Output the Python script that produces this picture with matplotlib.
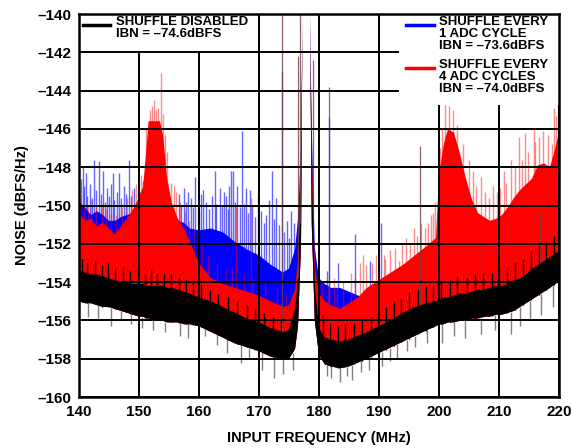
import numpy as np
import matplotlib
matplotlib.use("Agg")
import matplotlib.pyplot as plt
from matplotlib.patches import Rectangle

plt.rcParams['font.family'] = ['Liberation Sans', 'DejaVu Sans']
plt.rcParams['font.weight'] = 'bold'

# frequency grid (MHz) shared by the three noise bands; nan = gap at the carrier
freq = [140, 141, 142, 143, 144, 145, 146, 147, 148, 149, 150, 150.7, 151.3, 151.6,
        153.5, 154, 154.7, 155.5, 156.5, 157.5, 158.5, 160, 162, 164, 166, 168, 170,
        172, 174, 175, 176, 176.5, 177, 177.25, 177.8, 178.5, 178.8, 179.3, 180, 181,
        182, 183.5, 185, 186.5, 188, 190, 192, 194, 196, 198, 199.5, 200, 200.8, 201.5,
        202.5, 203.5, 204.5, 205.5, 206.5, 207.5, 208.5, 209.5, 210.5, 211.5, 212.5,
        213.5, 214.5, 215.5, 216.5, 217.5, 218.5, 219.3, 220]
nan = np.nan

# shuffle disabled (black band)
off_top = [-153.4, -153.5, -153.6, -153.6, -153.7, -153.8, -153.9, -154.0, -154.0, -154.1,
           -154.1, -154.1, -154.2, -154.2, -154.2, -154.2, -154.3, -154.3, -154.4, -154.5,
           -154.6, -154.8, -155.0, -155.3, -155.6, -155.9, -156.1, -156.4, -156.6, -156.5,
           -155.4, -153.8, -149.0, -140.0, nan, -140.0, -148.0, -154.2, -156.4, -156.9,
           -157.0, -157.1, -157.0, -156.8, -156.6, -156.3, -156.0, -155.6, -155.3, -155.1,
           -155.0, -154.9, -154.8, -154.8, -154.7, -154.6, -154.6, -154.5, -154.4, -154.4,
           -154.3, -154.2, -154.2, -154.1, -153.9, -153.8, -153.6, -153.3, -153.1, -152.9,
           -152.7, -152.5, -152.4]
off_bottom = [-155.0, -155.1, -155.1, -155.2, -155.3, -155.3, -155.4, -155.5, -155.6, -155.7,
              -155.8, -155.8, -155.9, -155.9, -156.0, -156.0, -156.1, -156.1, -156.1, -156.2,
              -156.2, -156.3, -156.6, -156.9, -157.2, -157.4, -157.6, -157.9, -158.0, -158.0,
              -157.5, -156.3, -152.0, -140.0, nan, -140.0, -151.0, -156.0, -157.8, -158.3,
              -158.4, -158.5, -158.4, -158.2, -158.0, -157.7, -157.4, -157.1, -156.8, -156.5,
              -156.3, -156.2, -156.2, -156.1, -156.1, -156.0, -156.0, -155.9, -155.9, -155.8,
              -155.8, -155.7, -155.7, -155.6, -155.5, -155.3, -155.1, -154.9, -154.7, -154.5,
              -154.3, -154.1, -154.0]

# shuffle every 1 ADC cycle (blue band top)
ev1_top = [-149.8, -150.1, -150.5, -150.3, -150.5, -150.8, -150.8, -150.6, -150.5, -150.4,
           -150.5, -150.6, -150.7, -150.7, -150.7, -150.7, -150.7, -150.7, -150.8, -150.9,
           -151.2, -151.3, -151.2, -151.4, -151.9, -152.3, -152.6, -153.1, -153.5, -153.3,
           -152.3, -150.7, -147.0, -140.0, nan, -140.0, -146.0, -152.2, -153.8, -154.1,
           -154.3, -154.3, -154.5, -154.7, -154.8, -154.9, -155.0, -155.0, -154.9, -154.7,
           -154.6, -154.5, -154.5, -154.5, -154.4, -154.3, -154.3, -154.2, -154.1, -154.1,
           -154.0, -153.9, -153.9, -153.8, -153.6, -153.5, -153.3, -153.0, -152.8, -152.6,
           -152.4, -152.2, -152.1]

# shuffle every 4 ADC cycles (red band top)
ev4_top = [-150.4, -150.8, -150.7, -151.1, -150.9, -151.2, -151.5, -151.1, -150.7, -150.2,
           -149.6, -149.0, -146.8, -145.6, -145.6, -146.3, -148.6, -149.9, -150.7, -151.2,
           -151.9, -153.0, -153.8, -154.1, -154.3, -154.5, -154.7, -155.0, -155.3, -155.2,
           -154.4, -152.7, -148.0, -140.0, nan, -140.0, -147.0, -153.2, -154.6, -155.0,
           -155.2, -155.4, -155.1, -154.8, -154.3, -153.9, -153.5, -153.1, -152.6, -152.1,
           -151.7, -148.4, -146.8, -146.0, -146.2, -147.3, -148.6, -149.7, -150.4, -150.6,
           -150.8, -150.7, -150.5, -150.1, -149.6, -149.2, -148.9, -148.6, -147.9, -147.8,
           -148.0, -147.1, -146.2]

# isolated spurs of each trace
ev1_spur_f = [140.3, 140.6, 140.9, 141.1, 141.4, 141.8, 142.2, 142.5, 142.8, 143.3, 143.6,
              144.0, 144.3, 144.7, 145.0, 145.3, 145.6, 145.9, 146.3, 146.6, 147.0, 147.5,
              147.8, 148.3, 148.7, 149.2, 149.6, 150.2, 150.6, 156.7, 157.0, 157.5, 157.9,
              158.1, 158.6, 159.0, 159.4, 159.8, 160.0, 160.3, 160.7, 161.2, 161.6, 162.2,
              162.7, 162.9, 163.5, 163.9, 164.1, 164.5, 164.8, 165.0, 165.3, 165.7, 166.0,
              166.3, 166.8, 167.1, 167.5, 167.9, 168.2, 168.5, 168.9, 169.4, 169.9, 170.3,
              170.8, 171.2, 171.6, 172.1, 172.5, 172.9, 173.3, 173.8, 174.1, 174.6, 175.0,
              175.4, 175.8, 181.3, 181.7, 183.2, 186.0, 188.5, 190.3]
ev1_spur_db = [-148.6, -148.0, -149.0, -148.3, -149.5, -148.9, -149.6, -147.6, -149.2, -147.7,
               -149.4, -148.2, -149.8, -149.1, -149.5, -148.9, -148.3, -149.7, -149.3, -148.3,
               -149.6, -149.0, -149.4, -147.6, -149.5, -149.1, -149.8, -149.3, -148.7, -149.4,
               -150.0, -149.1, -149.8, -149.3, -149.6, -150.1, -148.5, -149.9, -150.3, -149.4,
               -149.2, -149.8, -150.2, -149.5, -148.2, -149.9, -149.1, -150.0, -149.3, -149.5,
               -150.2, -149.0, -148.2, -148.2, -149.8, -149.0, -150.1, -146.1, -149.9, -149.1,
               -150.4, -149.2, -150.0, -150.6, -149.4, -150.3, -150.9, -150.5, -149.7, -148.2,
               -150.7, -149.6, -151.0, -143.0, -151.4, -150.8, -151.7, -150.3, -150.9, -153.4,
               -145.4, -153.0, -151.5, -152.9, -150.9]
ev4_spur_f = [140.2, 140.8, 141.5, 142.0, 142.9, 143.8, 144.5, 145.4, 146.2, 147.2, 148.0,
              148.8, 149.5, 150.3, 150.9, 151.2, 151.8, 152.2, 152.5, 152.8, 153.2, 153.7,
              154.0, 154.3, 154.6, 155.3, 155.8, 156.2, 156.8, 157.6, 158.3, 159.2, 160.5,
              161.5, 163.0, 164.5, 165.5, 166.2, 167.5, 168.7, 169.0, 171.0, 173.0, 174.5,
              180.5, 181.5, 182.5, 183.0, 184.0, 185.3, 186.0, 186.8, 187.4, 187.8, 188.8,
              189.5, 190.8, 191.0, 191.8, 192.6, 193.3, 193.8, 194.5, 195.2, 195.8, 196.3,
              197.0, 197.6, 198.1, 198.6, 199.0, 199.3, 200.2, 200.5, 201.0, 201.6, 202.3,
              203.0, 204.0, 205.0, 205.6, 206.2, 207.0, 207.6, 208.3, 209.0, 209.6, 210.2,
              210.8, 211.2, 212.0, 212.6, 213.3, 213.8, 214.3, 214.8, 215.8, 216.0, 216.6,
              217.3, 218.2, 218.8, 219.2, 219.5, 219.8]
ev4_spur_db = [-149.6, -149.9, -150.0, -149.7, -150.1, -149.9, -150.2, -150.4, -150.5, -150.1,
               -149.6, -149.2, -148.9, -148.4, -148.5, -146.0, -145.0, -144.8, -144.5, -145.0,
               -144.9, -143.1, -145.2, -146.3, -147.2, -148.8, -149.0, -149.3, -149.8, -150.3,
               -150.8, -151.3, -152.0, -152.6, -153.0, -153.3, -153.2, -150.1, -153.6, -149.6,
               -153.8, -154.0, -154.3, -154.6, -154.0, -154.2, -153.8, -154.3, -154.0, -153.5,
               -153.8, -153.0, -152.6, -153.1, -153.0, -152.6, -152.6, -152.8, -152.3, -152.2,
               -152.9, -152.0, -151.7, -152.0, -151.2, -151.6, -150.9, -151.2, -150.9, -150.5,
               -150.4, -149.8, -147.0, -146.0, -144.5, -144.8, -145.0, -145.8, -146.8, -147.6,
               -148.2, -149.0, -148.5, -149.3, -149.6, -149.0, -149.3, -149.1, -148.2, -148.8,
               -147.6, -148.0, -146.4, -147.6, -146.2, -147.2, -146.0, -146.7, -146.4, -146.1,
               -146.3, -146.8, -144.9, -145.3, -144.7]
off_spur_f = [140.5, 141.3, 142.6, 143.9, 144.8, 146.0, 147.3, 148.5, 149.8, 151.0, 152.0,
              153.0, 154.2, 155.4, 156.6, 157.8, 159.0, 160.4, 161.8, 163.2, 164.9, 166.4,
              168.0, 169.4, 170.8, 172.3, 173.6, 180.6, 181.9, 183.1, 184.4, 185.8, 187.2,
              188.6, 189.9, 191.2, 192.5, 193.7, 195.0, 196.5, 197.8, 199.0, 200.4, 201.8,
              203.0, 204.7, 206.0, 207.4, 208.8, 210.0, 211.3, 212.7, 214.0, 215.3, 216.6,
              217.9, 219.2]
off_spur_db = [-152.8, -153.0, -152.9, -153.1, -153.0, -153.3, -153.2, -153.4, -153.3, -153.6,
               -153.3, -153.5, -153.6, -153.6, -153.8, -153.9, -154.0, -154.1, -154.4, -154.6,
               -154.8, -155.0, -155.2, -155.4, -155.6, -155.8, -155.9, -155.7, -156.2, -156.3,
               -156.2, -156.2, -155.9, -155.8, -155.6, -155.3, -155.0, -154.9, -154.5, -154.4,
               -154.2, -154.2, -154.0, -153.9, -153.7, -153.8, -153.6, -153.5, -153.5, -153.3,
               -153.2, -153.0, -152.8, -152.4, -152.1, -151.9, -151.6]
off_tail_f = [141.5, 143.2, 145.3, 147.0, 148.7, 150.5, 152.3, 154.4, 156.8, 158.2, 161.0,
              163.0, 164.6, 167.0, 168.4, 170.5, 172.5, 174.0, 175.6, 181.3, 182.0, 183.5,
              184.6, 185.5, 187.0, 188.3, 190.5, 191.8, 193.0, 194.6, 196.0, 198.0, 200.5,
              202.5, 204.3, 207.0, 209.3, 212.0, 213.5, 215.2, 217.0, 219.0]
off_tail_db = [-155.8, -156.0, -156.3, -156.0, -156.2, -156.4, -156.5, -156.6, -156.8, -156.9,
               -156.8, -157.3, -157.7, -158.2, -158.0, -158.6, -159.0, -158.8, -158.6, -158.9,
               -159.0, -159.2, -158.9, -159.1, -158.7, -158.6, -158.4, -158.1, -158.0, -157.6,
               -157.4, -157.2, -157.2, -156.8, -156.9, -156.7, -156.5, -156.7, -156.3, -155.9,
               -155.7, -155.3]
common_spur_f = [173.8, 176.5, 176.8, 177.4, 177.9, 178.2, 179.0, 181.7, 196.8, 207.0, 216.8]
common_spur_db = [-139.0, -142.2, -139.0, -139.0, -139.0, -139.0, -142.4, -143.8, -146.9,
                  -151.5, -150.4]

xticks = [140, 150, 160, 170, 180, 190, 200, 210, 220]
yticks = [-160, -158, -156, -154, -152, -150, -148, -146, -144, -142, -140]

f = np.array(freq)
ok = ~np.isnan(np.array(off_top))
f_ok = f[ok]
top_ok = np.array(off_top)[ok]
bot_ok = np.array(off_bottom)[ok]

fig = plt.figure(figsize=(5.72, 4.48), dpi=100)
ax = fig.add_axes([0.1381, 0.1138, 0.8392, 0.8549])

# blue first, red over it, black on top
ax.fill_between(f, off_bottom, ev1_top, color='#0000ff', lw=0, zorder=1.0)
ax.vlines(ev1_spur_f, np.interp(ev1_spur_f, f_ok, top_ok), ev1_spur_db,
          color='#0000ff', alpha=0.6, lw=1.0, zorder=1.0)
ax.fill_between(f, off_bottom, ev4_top, color='#ff0000', lw=0, zorder=1.2)
ax.vlines(ev4_spur_f, np.interp(ev4_spur_f, f_ok, top_ok), ev4_spur_db,
          color='#ff0000', alpha=0.45, lw=1.0, zorder=1.2)
ax.fill_between(f, off_bottom, off_top, color='black', lw=0, zorder=1.5)
ax.vlines(off_spur_f, np.interp(off_spur_f, f_ok, bot_ok), off_spur_db,
          color='black', lw=1.0, zorder=1.5)
ax.vlines(off_tail_f, off_tail_db, np.interp(off_tail_f, f_ok, bot_ok),
          color='black', alpha=0.5, lw=1.0, zorder=1.5)
ax.vlines(common_spur_f, np.interp(common_spur_f, f_ok, top_ok), common_spur_db,
          color='#6e4040', alpha=0.8, lw=0.9, zorder=1.6)

ax.set_xlim(140, 220)
ax.set_ylim(-160, -140)
ax.set_xticks(xticks)
ax.set_yticks(yticks)
ax.set_yticklabels(['–%d' % abs(v) for v in yticks])
ax.tick_params(length=0, labelsize=11, pad=5.5)
ax.set_axisbelow(False)
ax.grid(True, color='black', lw=1.4)
for s in ax.spines.values():
    s.set_linewidth(1.8)
    s.set_zorder(5)

ax.set_xlabel('INPUT FREQUENCY (MHz)', fontsize=10.5, fontweight='bold', labelpad=9)
ax.set_ylabel('NOISE (dBFS/Hz)', fontsize=10.5, fontweight='bold', labelpad=6)

# legend areas
ax.add_patch(Rectangle((140, -141.93), 29.85, 2.0, facecolor='white', edgecolor='none', zorder=3))
ax.add_patch(Rectangle((193.3, -144.75), 26.7, 4.8, facecolor='white', edgecolor='none', zorder=3))

tr = ax.transAxes
ax.plot([0.008, 0.065], [0.971, 0.971], color='black', lw=2.5, transform=tr, zorder=4)
ax.text(0.077, 0.994, 'SHUFFLE DISABLED\nIBN = –74.6dBFS', transform=tr, va='top',
        ha='left', fontsize=9.5, fontweight='bold', linespacing=1.0, zorder=4)
ax.plot([0.681, 0.740], [0.971, 0.971], color='#0000ff', lw=2.5, transform=tr, zorder=4)
ax.text(0.750, 0.994, 'SHUFFLE EVERY\n1 ADC CYCLE\nIBN = –73.6dBFS', transform=tr,
        va='top', ha='left', fontsize=9.5, fontweight='bold', linespacing=1.0, zorder=4)
ax.plot([0.681, 0.740], [0.859, 0.859], color='#ff0000', lw=2.5, transform=tr, zorder=4)
ax.text(0.750, 0.882, 'SHUFFLE EVERY\n4 ADC CYCLES\nIBN = –74.0dBFS', transform=tr,
        va='top', ha='left', fontsize=9.5, fontweight='bold', linespacing=1.0, zorder=4)

fig.savefig('out.png', dpi=100)
